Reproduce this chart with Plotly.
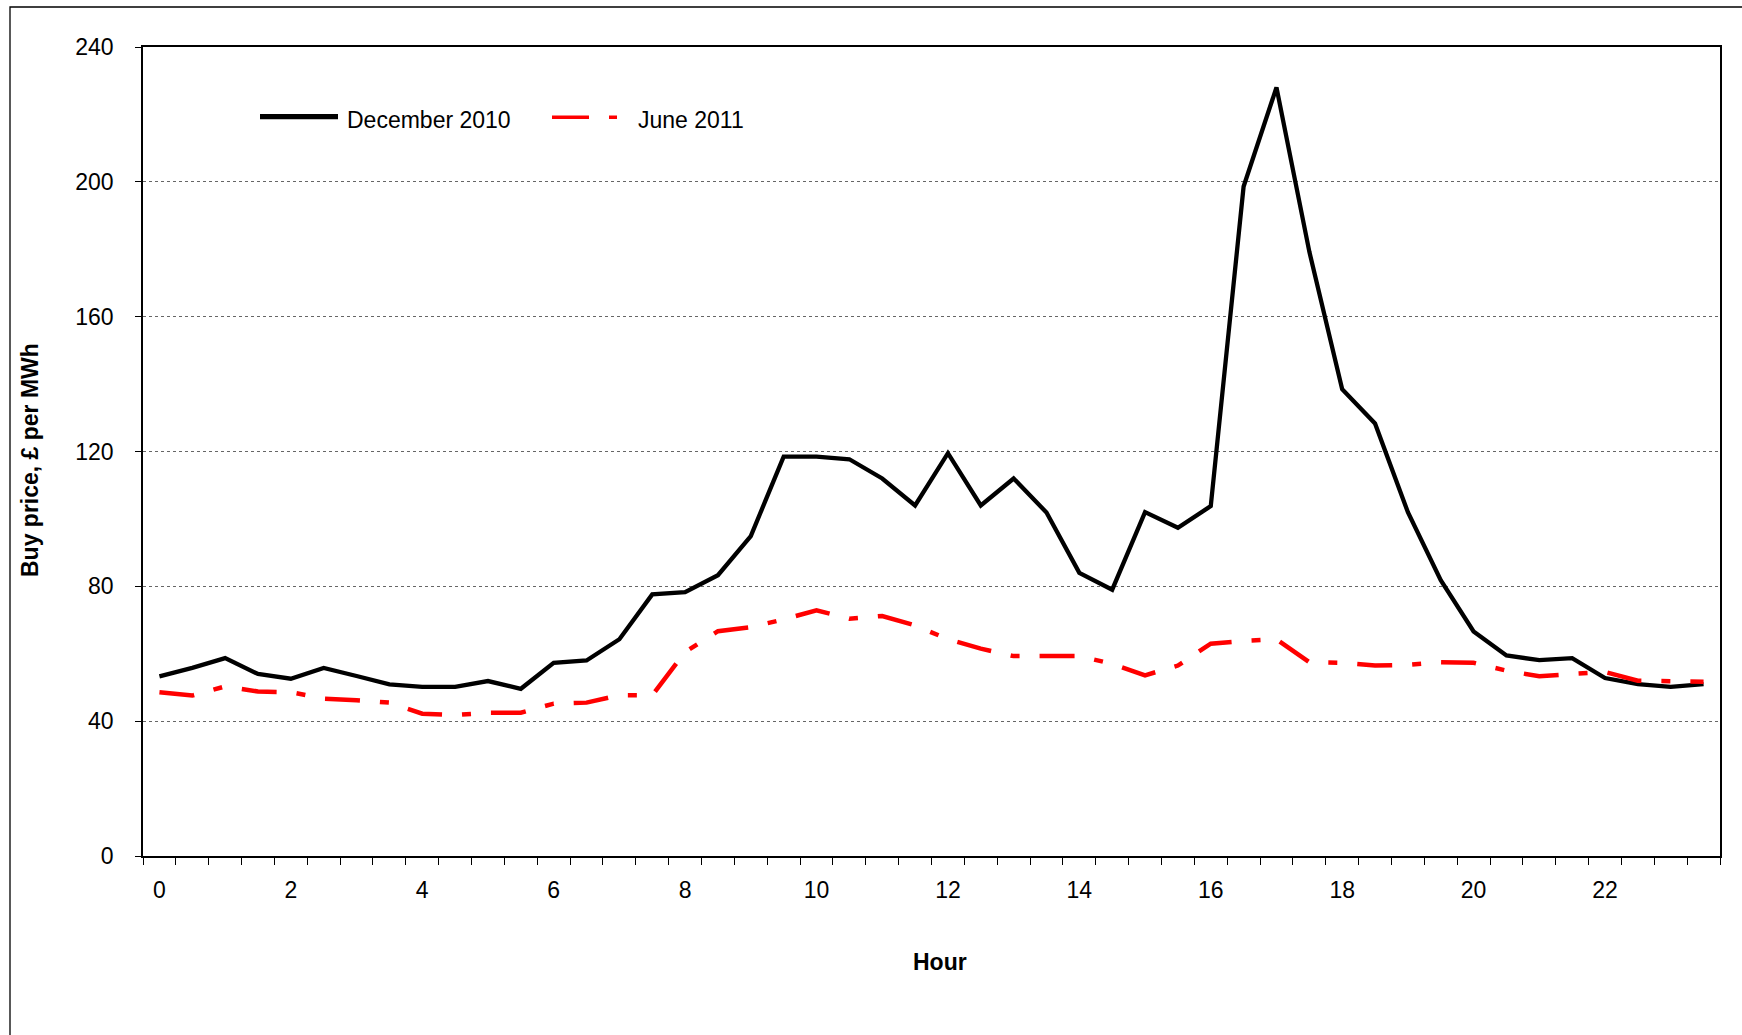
import plotly.graph_objects as go

# ---- data ----
hours = [0, 0.5, 1, 1.5, 2, 2.5, 3, 3.5, 4, 4.5, 5, 5.5, 6, 6.5, 7, 7.5,
         8, 8.5, 9, 9.5, 10, 10.5, 11, 11.5, 12, 12.5, 13, 13.5, 14, 14.5, 15, 15.5,
         16, 16.5, 17, 17.5, 18, 18.5, 19, 19.5, 20, 20.5, 21, 21.5, 22, 22.5, 23, 23.5]

dec_2010 = [53.3, 55.8, 58.7, 54.0, 52.6, 55.8, 53.4, 50.9, 50.2, 50.2, 51.9, 49.6,
            57.3, 58.0, 64.3, 77.6, 78.3, 83.3, 94.9, 118.5, 118.5, 117.7, 112.0, 104.0,
            119.5, 104.0, 112.0, 101.9, 84.0, 79.0, 102.0, 97.4, 103.8, 198.6, 228.0, 179.3,
            138.5, 128.3, 102.0, 81.8, 66.6, 59.5, 58.1, 58.7, 52.8, 51.0, 50.2, 51.0]

jun_2011 = [48.6, 47.6, 50.3, 48.8, 48.6, 46.7, 46.2, 45.5, 42.2, 41.8, 42.5, 42.5,
            45.2, 45.5, 47.7, 47.7, 60.5, 66.7, 67.9, 70.2, 72.9, 70.4, 71.2, 68.4,
            64.3, 61.5, 59.3, 59.3, 59.3, 57.0, 53.6, 56.5, 63.0, 63.8, 64.3, 57.5,
            57.3, 56.5, 56.7, 57.5, 57.3, 55.0, 53.3, 54.0, 54.6, 52.0, 51.7, 51.7]

x_tick_vals = [0, 2, 4, 6, 8, 10, 12, 14, 16, 18, 20, 22]
x_tick_text = ["0", "2", "4", "6", "8", "10", "12", "14", "16", "18", "20", "22"]
y_tick_vals = [0, 40, 80, 120, 160, 200, 240]

series_names = ["December 2010", "June 2011"]

# ---- layout geometry (page pixels; body margin removed in post_script) ----
W, H = 1742, 1035

P_LEFT, P_RIGHT, P_TOP, P_BOTTOM = 143, 1720, 47, 856
L = P_LEFT
T = P_TOP
R = W - P_RIGHT
B = H - P_BOTTOM
PW = P_RIGHT - P_LEFT
PH = P_BOTTOM - P_TOP


def px(xp):
    """page x pixel -> paper coordinate"""
    return (xp - P_LEFT) / PW


def py(yp):
    """page y pixel -> paper coordinate"""
    return 1 - (yp - P_TOP) / PH


FONT = "Liberation Sans, Arial, sans-serif"
RED_DASH = "35px,20px,9px,20px"
FS = 23

fig = go.Figure()
fig.add_trace(go.Scatter(x=hours, y=dec_2010, mode="lines", name=series_names[0],
                         line=dict(color="black", width=4.3), showlegend=False))
fig.add_trace(go.Scatter(x=hours, y=jun_2011, mode="lines", name=series_names[1],
                         line=dict(color="#ff0000", width=4.5, dash=RED_DASH),
                         showlegend=False))

shapes = [
    # outer chart frame (extends beyond the visible window on right/bottom)
    dict(type="rect", xref="paper", yref="paper",
         x0=px(10), x1=px(W + 40), y0=py(H + 40), y1=py(7),
         line=dict(color="black", width=1.3), fillcolor="rgba(0,0,0,0)", layer="below"),
    # legend samples
    dict(type="line", xref="paper", yref="paper",
         x0=px(260), x1=px(338), y0=py(116.7), y1=py(116.7),
         line=dict(color="black", width=5.3)),
    dict(type="line", xref="paper", yref="paper",
         x0=px(552), x1=px(617), y0=py(117.3), y1=py(117.3),
         line=dict(color="#ff0000", width=3.5, dash="37px,20px,9px,20px")),
]

annotations = [
    dict(text=series_names[0], xref="paper", yref="paper", x=px(345), y=py(120),
         xanchor="left", yanchor="middle", showarrow=False,
         font=dict(family=FONT, size=FS, color="black")),
    dict(text=series_names[1], xref="paper", yref="paper", x=px(636), y=py(120),
         xanchor="left", yanchor="middle", showarrow=False,
         font=dict(family=FONT, size=FS, color="black")),
    dict(text="<b>Hour</b>", xref="paper", yref="paper", x=px(940), y=py(962),
         xanchor="center", yanchor="middle", showarrow=False,
         font=dict(family=FONT, size=FS, color="black")),
    dict(text="<b>Buy price, £ per MWh</b>", xref="paper", yref="paper", x=px(30), y=py(460),
         xanchor="center", yanchor="middle", showarrow=False, textangle=-90,
         font=dict(family=FONT, size=FS, color="black")),
]

fig.update_layout(
    width=W, height=H,
    margin=dict(l=L, r=R, t=T, b=B, autoexpand=False),
    paper_bgcolor="white", plot_bgcolor="white",
    font=dict(family=FONT, size=FS, color="black"),
    showlegend=False,
    shapes=shapes,
    annotations=annotations,
    xaxis=dict(
        range=[-0.25, 23.75],
        tickmode="array", tickvals=x_tick_vals, ticktext=x_tick_text,
        ticks="", showgrid=False, zeroline=False,
        showline=True, linecolor="black", linewidth=1.5, mirror=True,
        ticklabelstandoff=13,
        tickfont=dict(family=FONT, size=FS, color="black"),
        minor=dict(ticks="outside", tick0=-0.25, dtick=0.5, ticklen=7,
                   tickcolor="black", tickwidth=1.3, showgrid=False),
    ),
    yaxis=dict(
        range=[0, 240],
        tickmode="array", tickvals=y_tick_vals,
        ticks="outside", ticklen=6, tickcolor="black", tickwidth=1.3,
        showgrid=True, gridcolor="#666666", griddash="dot", gridwidth=1.2,
        zeroline=False,
        showline=True, linecolor="black", linewidth=1.5, mirror=True,
        ticklabelstandoff=17,
        tickfont=dict(family=FONT, size=FS, color="black"),
    ),
)

fig.write_html(
    "out.html",
    config={"displayModeBar": False},
    post_script="document.body.style.margin='0';document.body.style.overflow='hidden';",
)
